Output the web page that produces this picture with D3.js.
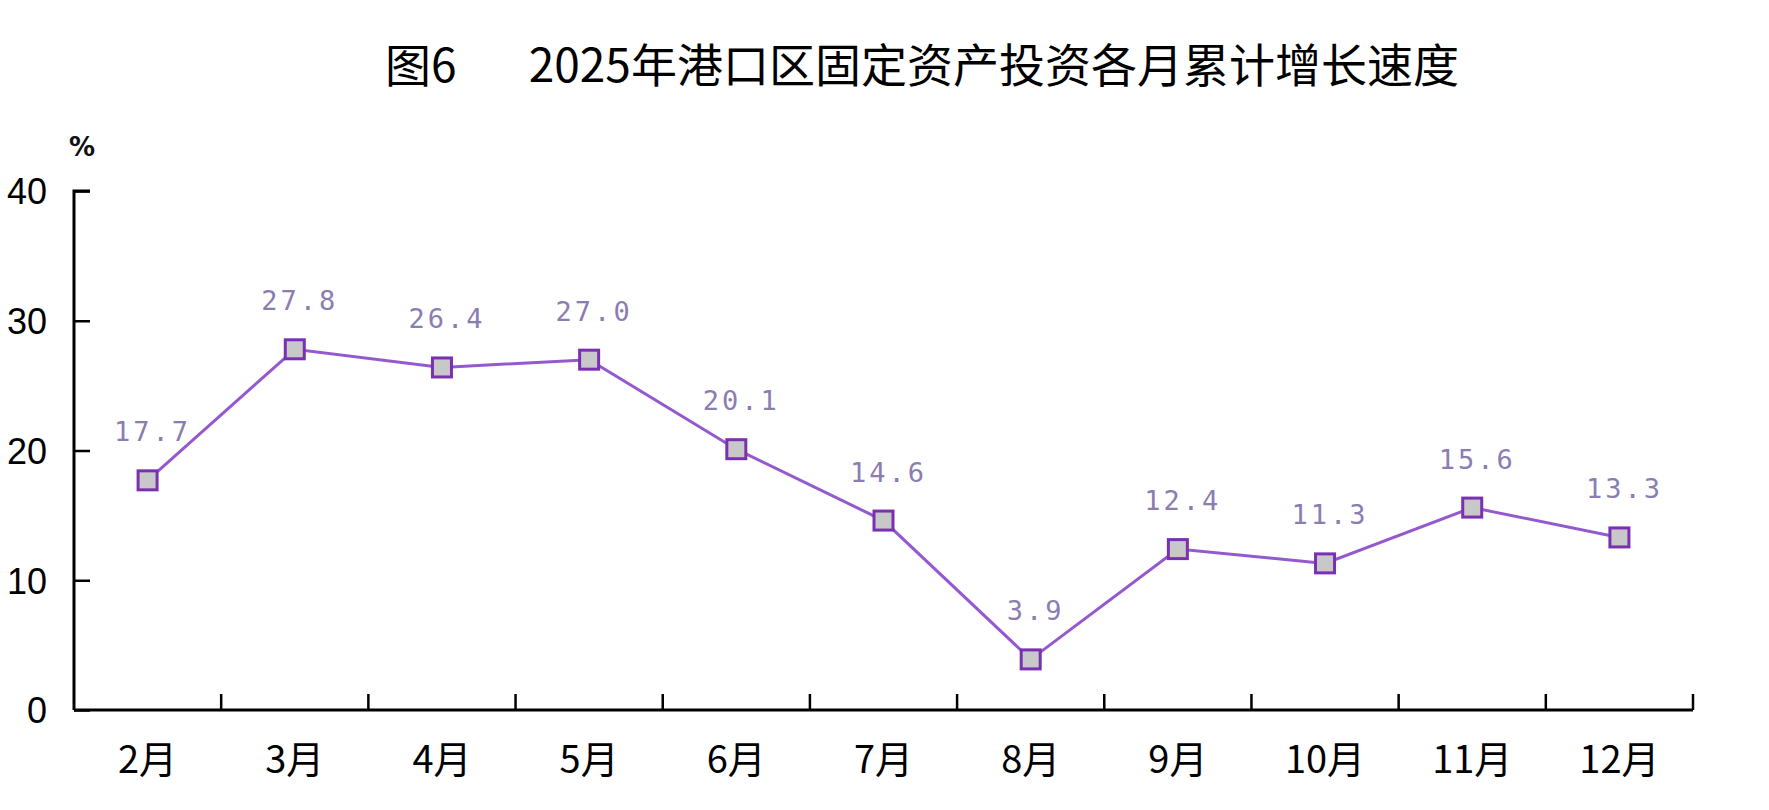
<!DOCTYPE html>
<html><head><meta charset="utf-8">
<script src="https://cdn.jsdelivr.net/npm/d3@7"></script>
<style>
html,body{margin:0;padding:0;background:#fff;}
svg{display:block;}
</style></head>
<body>
<script>
const titleText = "图6       2025年港口区固定资产投资各月累计增长速度";
const unitLabel = "%";
const months = ["2月","3月","4月","5月","6月","7月","8月","9月","10月","11月","12月"];
const growth = [17.7, 27.8, 26.4, 27.0, 20.1, 14.6, 3.9, 12.4, 11.3, 15.6, 13.3];
const yTicks = [0, 10, 20, 30, 40];

(function () {
const W = 1769, H = 810;
const pl = 74, pr = 1693, pt = 191, pb = 710;

const svg = d3.select("body").append("svg").attr("width", W).attr("height", H);

const x = d3.scaleBand().domain(months).range([pl, pr]).padding(0);
const y = d3.scaleLinear().domain([0, 40]).range([pb, pt]);

svg.append("text")
  .attr("x", 922).attr("y", 62)
  .attr("text-anchor", "middle").attr("dominant-baseline", "central")
  .attr("xml:space", "preserve")
  .style("white-space", "pre")
  .style("font-family", "'Noto Sans CJK SC', sans-serif")
  .style("font-size", "46px").style("fill", "#000")
  .text(titleText);

svg.append("text")
  .attr("x", 82).attr("y", 147)
  .attr("text-anchor", "middle").attr("dominant-baseline", "central")
  .style("font-family", "'DejaVu Sans', sans-serif").style("font-weight", "bold")
  .style("font-size", "26px").style("fill", "#111")
  .text(unitLabel);

const yAxis = d3.axisLeft(y).tickValues(yTicks).tickSize(-16).tickPadding(27).tickFormat(d3.format("d"));
const gy = svg.append("g").attr("transform", `translate(${pl},0)`).call(yAxis);
gy.select(".domain").attr("stroke", "#000").attr("stroke-width", 3).attr("d", `M16,${pt}H0V${pb}`);
gy.selectAll(".tick line").attr("stroke", "#000").attr("stroke-width", 2.5);
gy.selectAll(".tick text")
  .style("font-family", "'Liberation Sans', sans-serif")
  .style("font-size", "36px").style("fill", "#000")
  .attr("dy", "0.36em");

const gx = svg.append("g").attr("transform", `translate(0,${pb})`);
gx.append("line").attr("x1", pl).attr("x2", pr).attr("y1", 0).attr("y2", 0)
  .attr("stroke", "#000").attr("stroke-width", 3);
gx.selectAll(".xt").data(months).enter().append("line")
  .attr("x1", d => x(d) + x.bandwidth()).attr("x2", d => x(d) + x.bandwidth())
  .attr("y1", 0).attr("y2", -16)
  .attr("stroke", "#000").attr("stroke-width", 2.5);
gx.selectAll(".xl").data(months).enter().append("text")
  .attr("x", d => x(d) + x.bandwidth() / 2).attr("y", 46)
  .attr("text-anchor", "middle").attr("dominant-baseline", "central")
  .style("font-family", "'Noto Sans CJK SC', sans-serif")
  .style("font-size", "38px").style("fill", "#000")
  .text(d => d);

const data = months.map((m, i) => ({m, v: growth[i]}));
const line = d3.line().x(d => x(d.m) + x.bandwidth() / 2).y(d => y(d.v));
svg.append("path").datum(data).attr("d", line)
  .attr("fill", "none").attr("stroke", "#9459cf").attr("stroke-width", 3);

const ms = 19;
svg.selectAll(".mk").data(data).enter().append("rect")
  .attr("x", d => x(d.m) + x.bandwidth() / 2 - ms / 2)
  .attr("y", d => y(d.v) - ms / 2)
  .attr("width", ms).attr("height", ms)
  .attr("fill", "#c8c8c8").attr("stroke", "#7a30b0").attr("stroke-width", 3);

svg.selectAll(".lb").data(data).enter().append("text")
  .attr("x", d => x(d.m) + x.bandwidth() / 2 + 5)
  .attr("y", d => y(d.v) - 39)
  .attr("text-anchor", "middle")
  .style("font-family", "'DejaVu Sans Mono', monospace")
  .style("font-size", "27px").style("letter-spacing", "3px")
  .style("fill", "#8a7db2")
  .text(d => d.v.toFixed(1));
})();
</script>
</body></html>
